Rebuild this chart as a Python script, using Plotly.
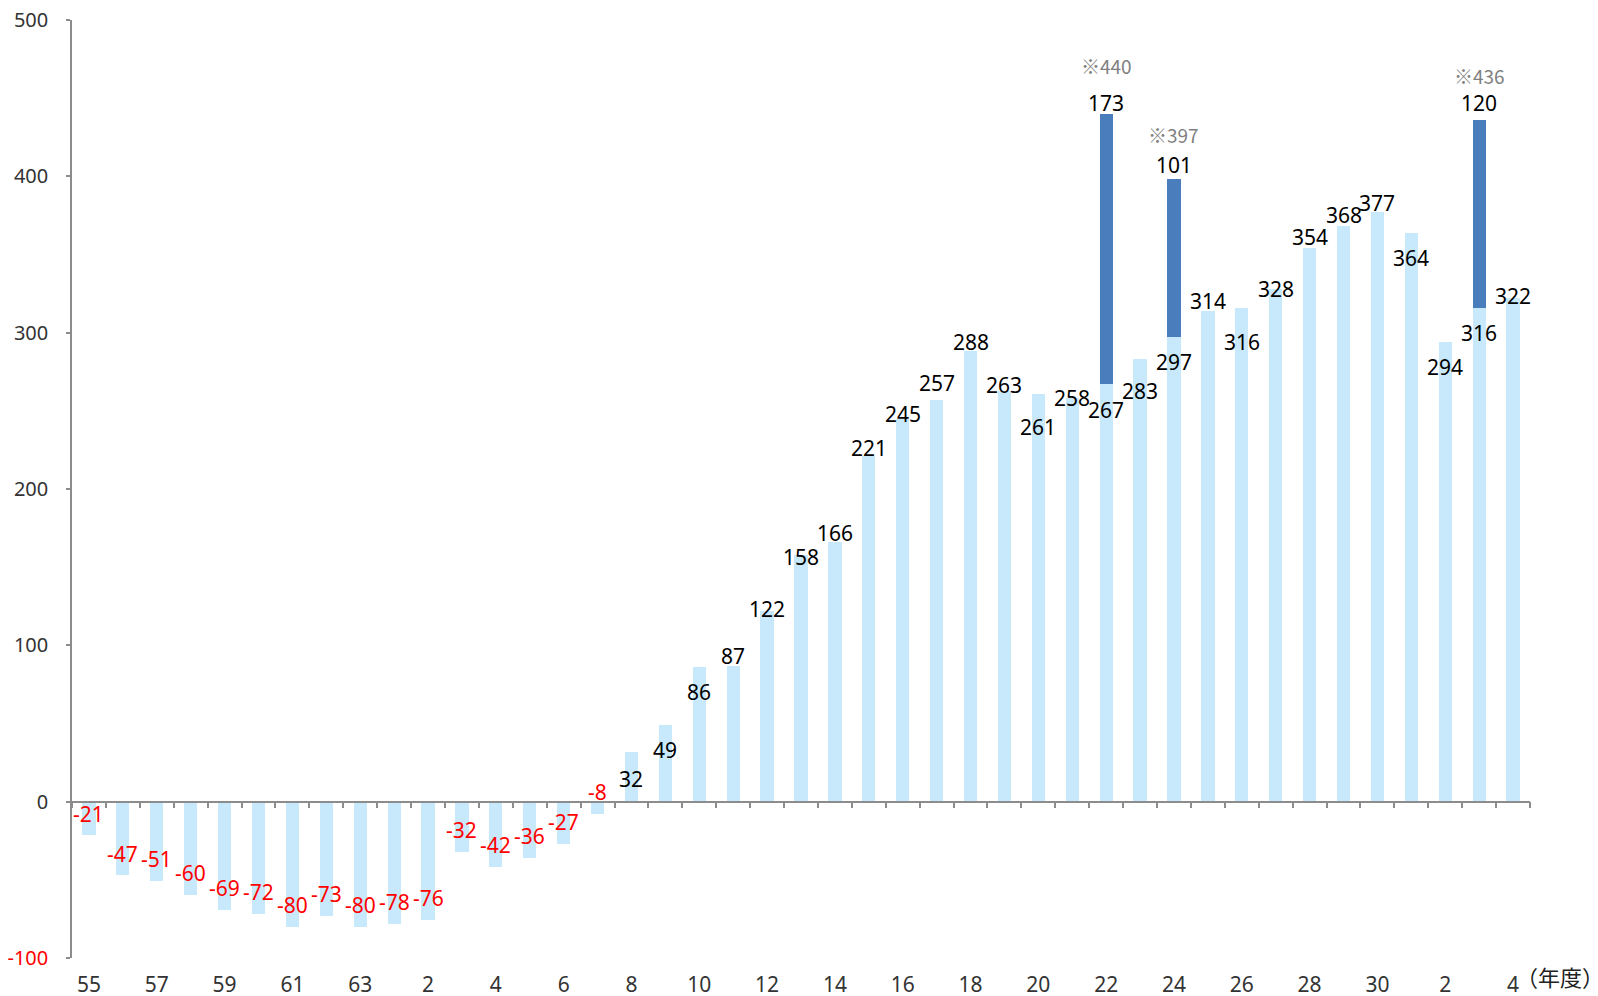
import numpy as np
import plotly.graph_objects as go

# ---- data ----
years = ['55', '56', '57', '58', '59', '60', '61', '62', '63',
         '1', '2', '3', '4', '5', '6', '7', '8', '9', '10',
         '11', '12', '13', '14', '15', '16', '17', '18', '19', '20',
         '21', '22', '23', '24', '25', '26', '27', '28', '29', '30',
         '1', '2', '3', '4']
base_values = [-21, -47, -51, -60, -69, -72, -80, -73, -80, -78, -76,
               -32, -42, -36, -27, -8, 32, 49, 86, 87, 122, 158, 166,
               221, 245, 257, 288, 263, 261, 258, 267, 283, 297, 314,
               316, 328, 354, 368, 377, 364, 294, 316, 322]
extra_index = [30, 32, 41]
extra_values = [173, 101, 120]
total_labels = ['※440', '※397', '※436']
y_ticks = [-100, 0, 100, 200, 300, 400, 500]

# ---- label offsets (pixels, style only) ----
base_label_dy = [21, 21, 22, 22, 22, 22, 22, 22, 22, 22, 22,
                 22, 22, 22, 22, 22, -27, -25, -25, 10, 2, -2, 9,
                 8, 5, 17, 9, 6, -33, 0, -26, -32, -25, 10,
                 -34, 0, 11, 11, 9, -25, -25, -25, 2]
extra_label_dy = [11, 14, 17]
total_label_dy = [48, 45, 45]

n = len(years)
x = list(range(n))
extra_full = [None] * n
for i, v in zip(extra_index, extra_values):
    extra_full[i] = v

LIGHT = '#C8E9FB'
DARK = '#4A7DBB'
AXIS = '#8C8C8C'
FONT = 'Noto Sans'

fig = go.Figure()
fig.add_trace(go.Bar(x=x, y=base_values, marker=dict(color=LIGHT, line=dict(width=0)),
                     width=0.39, showlegend=False, hoverinfo='x+y'))
fig.add_trace(go.Bar(x=x, y=extra_full, marker=dict(color=DARK, line=dict(width=0)),
                     width=0.39, showlegend=False, hoverinfo='x+y'))
# helper trace carrying the zero-line axis with boundary ticks
bounds = list(np.arange(-0.5, n, 1.0))
fig.add_trace(go.Scatter(x=[bounds[0], bounds[-1]], y=[0, 0], xaxis='x2', yaxis='y',
                         mode='lines', line=dict(width=0, color='rgba(0,0,0,0)'),
                         showlegend=False, hoverinfo='skip'))

ann = []
for i, v in enumerate(base_values):
    ann.append(dict(x=i, y=v, xref='x', yref='y', text=str(v), showarrow=False,
                    yshift=base_label_dy[i],
                    font=dict(family=FONT, size=21,
                              color='#FF0000' if v < 0 else '#000000')))
for k, i in enumerate(extra_index):
    top = base_values[i] + extra_values[k]
    ann.append(dict(x=i, y=top, xref='x', yref='y', text=str(extra_values[k]),
                    showarrow=False, yshift=extra_label_dy[k],
                    font=dict(family=FONT, size=21, color='#000000')))
    ann.append(dict(x=i, y=top, xref='x', yref='y', text=total_labels[k],
                    showarrow=False, yshift=total_label_dy[k],
                    font=dict(family='Noto Sans CJK JP, Noto Sans', size=19, color='#7F7F7F')))
ann.append(dict(x=n - 0.5, y=0, xref='x', yref='paper', text='（年度）', showarrow=False,
                xanchor='left', yanchor='middle', xshift=-16, yshift=-18,
                font=dict(family='Noto Sans CJK JP', size=22, color='#222222')))

y_ticktext = ['<span style="color:#FF0000">%d</span>' % t if t < 0 else str(t) for t in y_ticks]

fig.update_layout(
    width=1598, height=996,
    margin=dict(l=64, r=76, t=12, b=46, autoexpand=False),
    paper_bgcolor='white', plot_bgcolor='white',
    barmode='relative', bargap=0,
    font=dict(family=FONT, size=21, color='#333333'),
    xaxis=dict(range=[-0.5, n - 0.5], tickvals=x[::2], ticktext=years[::2],
               ticks='', showline=False, showgrid=False, zeroline=False,
               automargin=False, ticklabelstandoff=12, ticklabeloverflow='allow',
               tickfont=dict(size=21, color='#333333')),
    xaxis2=dict(overlaying='x', matches='x', anchor='free', position=1 / 6,
                tickvals=bounds, ticks='outside', ticklen=6, tickwidth=1.5, tickcolor=AXIS,
                showticklabels=False, showline=True, linecolor=AXIS, linewidth=1.5,
                showgrid=False, zeroline=False, automargin=False),
    yaxis=dict(range=[-100, 500], tickvals=y_ticks, ticktext=y_ticktext,
               ticks='outside', ticklen=4, tickwidth=1.5, tickcolor=AXIS,
               showline=True, linecolor=AXIS, linewidth=1.5,
               showgrid=False, zeroline=False, ticklabelstandoff=14, automargin=False,
               ticklabeloverflow='allow',
               tickfont=dict(size=20, color='#333333')),
    annotations=ann,
)

fig.write_html('out.html')
